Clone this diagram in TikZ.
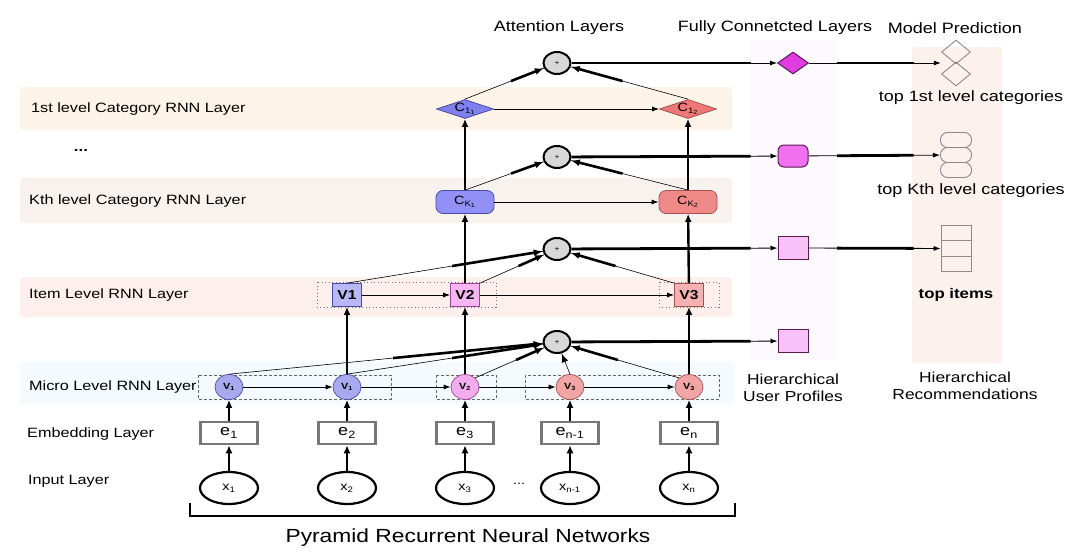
\documentclass[tikz,border=0pt]{standalone}
\usepackage{fontspec}
\setmainfont{Liberation Sans}[FakeStretch=1.2]
\usetikzlibrary{shapes.geometric,arrows.meta,calc}
\definecolor{bandOne}{HTML}{FDF3E6}
\definecolor{bandK}{HTML}{F7F2EE}
\definecolor{bandItem}{HTML}{FDF0EC}
\definecolor{bandMicro}{HTML}{F4FAFD}
\definecolor{colUser}{HTML}{FDF9FD}
\definecolor{colRec}{HTML}{FDF1EE}
\definecolor{blueA}{HTML}{7F7FEE}
\definecolor{blueB}{HTML}{9090F5}
\definecolor{blueC}{HTML}{B8B8F6}
\definecolor{blueD}{HTML}{A9A9EF}
\definecolor{blueEdge}{HTML}{4A4AA8}
\definecolor{pinkC}{HTML}{F5B6F2}
\definecolor{pinkD}{HTML}{F3ACEE}
\definecolor{pinkEdge}{HTML}{A0409A}
\definecolor{redA}{HTML}{EE7878}
\definecolor{redB}{HTML}{F08A88}
\definecolor{redC}{HTML}{F4B2B2}
\definecolor{redD}{HTML}{F2A5A5}
\definecolor{redEdge}{HTML}{A85050}
\definecolor{fcA}{HTML}{E03CE0}
\definecolor{fcB}{HTML}{F070F0}
\definecolor{fcC}{HTML}{F8C2F8}
\definecolor{fcEdge}{HTML}{5A1A5A}
\definecolor{attFill}{HTML}{D8D8D8}
\definecolor{embEdge}{HTML}{777777}
\definecolor{predEdge}{HTML}{8A8A8A}
\newcommand\taperline[2]{%
  \draw[line width=0.6pt] (#1) -- (#2);
  \draw[line width=2.6pt,-{Latex[length=9pt,width=7pt]}] ($(#1)!0.5!(#2)$) -- (#2);}
\begin{document}
\begin{tikzpicture}[x=1pt,y=-1pt,
  lbl/.style={anchor=west,inner sep=0pt,font=\fontsize{13.5}{16}\selectfont},
  ttl/.style={inner sep=0pt,font=\fontsize{15}{18}\selectfont},
  rtxt/.style={inner sep=0pt,font=\fontsize{15}{18}\selectfont},
  inp/.style={ellipse,draw,line width=2.2pt,fill=white,minimum width=58pt,minimum height=32pt,inner sep=0pt,font=\fontsize{12}{14}\selectfont},
  emb/.style={rectangle,draw=embEdge,line width=2.5pt,fill=white,minimum width=57pt,minimum height=22pt,inner sep=0pt,font=\fontsize{15}{16}\selectfont},
  mic/.style={ellipse,draw,line width=0.7pt,minimum width=28pt,minimum height=25pt,inner sep=0pt,font=\fontsize{9}{10}\selectfont\bfseries},
  itm/.style={rectangle,draw,line width=0.8pt,minimum width=29pt,minimum height=23pt,inner sep=0pt,font=\fontsize{13}{14}\selectfont\bfseries},
  ckn/.style={rectangle,rounded corners=7pt,draw,line width=0.8pt,minimum width=58pt,minimum height=23pt,inner sep=0pt,font=\fontsize{12}{13}\selectfont},
  cat/.style={diamond,aspect=3,draw,line width=0.8pt,minimum width=57pt,minimum height=19pt,inner sep=0pt,font=\fontsize{12}{13}\selectfont},
  att/.style={ellipse,draw,line width=2pt,fill=attFill,minimum width=27pt,minimum height=22pt,inner sep=0pt,font=\fontsize{7}{8}\selectfont},
  fcd/.style={diamond,aspect=1.4,draw=fcEdge,line width=1pt,fill=fcA,minimum width=31pt,minimum height=22pt,inner sep=0pt},
  fcr/.style={rectangle,rounded corners=6pt,draw=fcEdge,line width=1pt,fill=fcB,minimum width=30pt,minimum height=22pt,inner sep=0pt},
  fcs/.style={rectangle,draw=fcEdge,line width=1pt,fill=fcC,minimum width=30pt,minimum height=23pt,inner sep=0pt},
  pd/.style={diamond,aspect=1.2,draw=predEdge,line width=0.9pt,minimum width=29pt,minimum height=24pt,inner sep=0pt},
  pr/.style={rectangle,rounded corners=7pt,draw=predEdge,line width=0.9pt,minimum width=31pt,minimum height=15pt,inner sep=0pt},
  ps/.style={rectangle,draw=predEdge,line width=0.9pt,minimum width=30pt,minimum height=15.5pt,inner sep=0pt},
  fat/.style={line width=2.4pt,-{Latex[length=8pt,width=7pt]}},
  thinarr/.style={line width=0.8pt,-{Latex[length=7pt,width=5pt]}},
  dashbox/.style={draw=black!60,line width=0.7pt,dash pattern=on 3pt off 2pt},
  dotbox/.style={draw=black!55,line width=0.8pt,dash pattern=on 1pt off 2.5pt}
]
\useasboundingbox (0,0) rectangle (1080,557);
\fill[white] (0,0) rectangle (1080,557);
% background bands
\fill[colUser,rounded corners=3pt] (750,40) rectangle (837,360);
\fill[colRec,rounded corners=3pt] (912,47) rectangle (1002,363);
\fill[bandOne,rounded corners=3pt] (20,87) rectangle (732,130);
\fill[bandK,rounded corners=3pt] (20,178) rectangle (732,223);
\fill[bandItem,rounded corners=3pt] (20,277) rectangle (732,317);
\fill[bandMicro,rounded corners=3pt] (20,362) rectangle (735,405);
% titles
\node[ttl] (tAtt) at (559,28) {Attention Layers};
\node[ttl] (tFC) at (775,28) {Fully Connetcted Layers};
\node[ttl] (tMP) at (955,28) {Model Prediction};
% left labels
\node[lbl] (l1) at (31,109) {1st level Category RNN Layer};
\node[font=\fontsize{14}{16}\selectfont\bfseries,inner sep=0pt] (ldots) at (81,150) {...};
\node[lbl] (lK) at (29,201) {Kth level Category RNN Layer};
\node[lbl] (lI) at (29,295) {Item Level RNN Layer};
\node[lbl] (lM) at (29,387) {Micro Level RNN Layer};
\node[lbl] (lE) at (27,434) {Embedding Layer};
\node[lbl] (lIn) at (28,481) {Input Layer};
% group boxes
\draw[dashbox] (198,375) rectangle (391,399);
\draw[dashbox] (436,375) rectangle (496,399);
\draw[dashbox] (525,375) rectangle (719,399);
\draw[dotbox] (317,282) rectangle (496,307);
\draw[dotbox] (659,282) rectangle (719,307);
% input layer
\node[inp] (x1) at (229,488) {x\textsubscript{1}};
\node[inp] (x2) at (347,488) {x\textsubscript{2}};
\node[inp] (x3) at (465,488) {x\textsubscript{3}};
\node[inp] (x4) at (570,488) {x\textsubscript{n-1}};
\node[inp] (x5) at (689,488) {x\textsubscript{n}};
\node[inner sep=0pt,font=\fontsize{12}{14}\selectfont] (xdots) at (519,484) {...};
% embedding
\node[emb] (e1) at (229,433) {e\textsubscript{1}};
\node[emb] (e2) at (347,433) {e\textsubscript{2}};
\node[emb] (e3) at (465,433) {e\textsubscript{3}};
\node[emb] (e4) at (570,433) {e\textsubscript{n-1}};
\node[emb] (e5) at (689,433) {e\textsubscript{n}};
% micro
\node[mic,fill=blueD,draw=blueEdge] (m1) at (229,387) {V\textsubscript{1}};
\node[mic,fill=blueD,draw=blueEdge] (m2) at (347,387) {V\textsubscript{1}};
\node[mic,fill=pinkD,draw=pinkEdge] (m3) at (465,387) {V\textsubscript{2}};
\node[mic,fill=redD,draw=redEdge] (m4) at (570,387) {V\textsubscript{3}};
\node[mic,fill=redD,draw=redEdge] (m5) at (689,387) {V\textsubscript{3}};
% item
\node[itm,fill=blueC,draw=blueEdge] (i1) at (347,295) {V1};
\node[itm,fill=pinkC,draw=pinkEdge] (i2) at (465,295) {V2};
\node[itm,fill=redC,draw=redEdge] (i3) at (689,295) {V3};
% K level
\node[ckn,fill=blueB,draw=blueEdge] (k1) at (465,202) {C\textsubscript{K\textsubscript{1}}};
\node[ckn,fill=redB,draw=redEdge] (k2) at (688,202) {C\textsubscript{K\textsubscript{2}}};
% 1st level
\node[cat,fill=blueA,draw=blueEdge] (c1) at (465,109) {C\textsubscript{1\textsubscript{1}}};
\node[cat,fill=redA,draw=redEdge] (c2) at (688,109) {C\textsubscript{1\textsubscript{2}}};
% attention
\node[att] (a1) at (557,63) {+};
\node[att] (a2) at (557,157) {+};
\node[att] (a3) at (557,249) {+};
\node[att] (a4) at (557,342) {+};
% fully connected
\node[fcd] (f1) at (793,63) {};
\node[fcr] (f2) at (793,156) {};
\node[fcs] (f3) at (793,248) {};
\node[fcs] (f4) at (793,341) {};
% predictions
\node[pd] (p1a) at (956,52) {};
\node[pd] (p1b) at (956,74) {};
\node[inner sep=0pt,minimum width=30pt,minimum height=46pt] (p1) at (956,63) {};
\node[pr] (p2a) at (956,140) {};
\node[pr] (p2b) at (956,155) {};
\node[pr] (p2c) at (956,170) {};
\node[ps] (p3a) at (956,233) {};
\node[ps] (p3b) at (956,248.5) {};
\node[ps] (p3c) at (956,264) {};
% right texts
\node[rtxt] (r1) at (971,98) {top 1st level categories};
\node[rtxt] (r2) at (971,191) {top Kth level categories};
\node[rtxt,font=\fontsize{14}{16}\selectfont\bfseries] (r3) at (956,295) {top items};
\node[inner sep=0pt,align=center,font=\fontsize{14.5}{17}\selectfont] (hup) at (793,388) {Hierarchical\\User Profiles};
\node[inner sep=0pt,align=center,font=\fontsize{14.5}{17}\selectfont] (hrec) at (965,386) {Hierarchical\\Recommendations};
% bracket and caption
\draw[line width=2.2pt] (190,503) -- (190,516) -- (735,516) -- (735,503);
\node[inner sep=0pt,font=\fontsize{19}{22}\selectfont] (cap) at (468,538) {Pyramid Recurrent Neural Networks};
% edges: input -> embedding -> micro
\foreach \i in {1,...,5}{
  \draw[fat] (x\i) -- (e\i);
  \draw[fat] (e\i) -- (m\i);
}
\draw[thinarr] (m1) -- (m2);
\draw[thinarr] (m2) -- (m3);
\draw[thinarr] (m3) -- (m4);
\draw[thinarr] (m4) -- (m5);
\draw[fat] (m2) -- (i1);
\draw[fat] (m3) -- (i2);
\draw[fat] (m5) -- (i3);
\draw[thinarr] (i1) -- (i2);
\draw[thinarr] (i2) -- (i3);
\draw[fat] (i2) -- (k1);
\draw[fat] (i3) -- (k2);
\draw[thinarr] (k1) -- (k2);
\draw[fat] (k1) -- (c1);
\draw[fat] (k2) -- (c2);
\draw[thinarr] (c1) -- (c2);
% into attention
\taperline{m1.north}{a4}
\taperline{m2.north}{a4}
\taperline{m3.north east}{a4}
\taperline{m4.north}{a4}
\taperline{m5.north west}{a4}
\taperline{i1.north}{a3}
\taperline{i2.north east}{a3}
\taperline{i3.north west}{a3}
\taperline{k1.north}{a2}
\taperline{k2.north}{a2}
\taperline{c1.north}{a1}
\taperline{c2.north}{a1}
% attention -> FC
\foreach \i in {1,...,4}{
  \draw[thinarr] (a\i) -- (f\i);
  \draw[line width=2.8pt] (a\i) -- ($(a\i)!0.82!(f\i)$);
}
% FC -> predictions
\draw[thinarr] (f1) -- (p1);
\draw[line width=2.8pt] ($(f1)!0.27!(p1)$) -- ($(f1)!0.74!(p1)$);
\draw[thinarr] (f2) -- (p2b);
\draw[line width=2.8pt] ($(f2)!0.27!(p2b)$) -- ($(f2)!0.74!(p2b)$);
\draw[thinarr] (f3) -- (p3b);
\draw[line width=2.8pt] ($(f3)!0.27!(p3b)$) -- ($(f3)!0.74!(p3b)$);
\end{tikzpicture}
\end{document}
